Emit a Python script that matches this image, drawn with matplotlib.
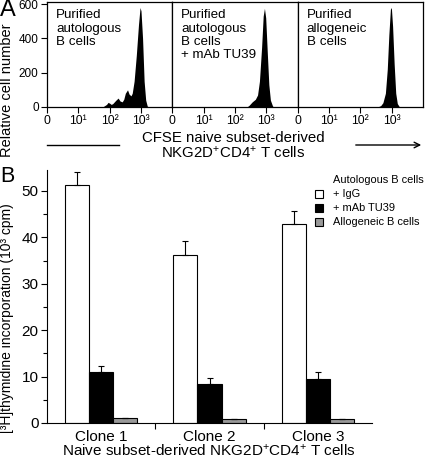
import matplotlib
matplotlib.use("Agg")
import matplotlib.pyplot as plt
import numpy as np
from matplotlib.ticker import LogLocator, NullFormatter
from matplotlib.patches import Rectangle, FancyArrowPatch
from matplotlib.lines import Line2D

plt.rcParams['font.family'] = ['Liberation Sans', 'DejaVu Sans']
plt.rcParams['mathtext.fontset'] = 'custom'
plt.rcParams['mathtext.rm'] = 'Liberation Sans'
plt.rcParams['mathtext.it'] = 'Liberation Sans:italic'

# panel A: CFSE histograms (log10 intensity, relative cell number)
hist_titles = ["Purified\nautologous\nB cells",
               "Purified\nautologous\nB cells\n+ mAb TU39",
               "Purified\nallogeneic\nB cells"]
cfse_log_1 = [1.65, 1.8, 1.9, 1.95, 2.0, 2.05, 2.1, 2.2, 2.27, 2.33, 2.4, 2.45, 2.5,
              2.57, 2.62, 2.68, 2.72, 2.78, 2.85, 2.92, 2.97, 3.0, 3.05, 3.1, 3.15, 3.2, 3.25]
counts_1 = [0, 3, 15, 27, 22, 15, 20, 40, 52, 35, 30, 45, 80,
            100, 75, 65, 80, 150, 300, 480, 580, 560, 400, 150, 40, 5, 0]
cfse_log_2 = [2.38, 2.45, 2.55, 2.65, 2.72, 2.78, 2.85, 2.9, 2.94, 2.98, 3.03, 3.08, 3.13, 3.2, 3.25]
counts_2 = [0, 10, 30, 45, 70, 150, 350, 530, 575, 520, 320, 130, 40, 5, 0]
cfse_log_3 = [2.55, 2.65, 2.72, 2.8, 2.86, 2.91, 2.96, 2.99, 3.03, 3.08, 3.13, 3.18, 3.25]
counts_3 = [0, 8, 25, 80, 220, 420, 570, 580, 470, 250, 80, 20, 0]

# panel B: proliferation
clones = ["Clone 1", "Clone 2", "Clone 3"]
igg = [51.3, 36.2, 42.8]
igg_err = [2.8, 3.1, 2.8]
tu39 = [11.0, 8.4, 9.4]
tu39_err = [1.3, 1.2, 1.6]
allo = [1.1, 0.85, 0.85]
allo_err = [0.0, 0.0, 0.0]
legend_labels = ["+ IgG", "+ mAb TU39", "Allogeneic B cells"]
bar_colors = ["white", "black", "#999999"]

W, H = 425, 458
def fx(p): return p / W
def fy(p): return 1 - p / H

fig = plt.figure(figsize=(W / 100, H / 100), dpi=100)

# ---- panel A
left, right, top, bot = 47, 423, 2, 107
pw = (right - left) / 3
hists = [(cfse_log_1, counts_1), (cfse_log_2, counts_2), (cfse_log_3, counts_3)]
for i, (lg, ct) in enumerate(hists):
    ax = fig.add_axes([fx(left + i * pw), fy(bot), pw / W, (bot - top) / H])
    ax.set_xscale('log')
    ax.fill_between(10 ** np.array(lg), ct, color='black', lw=0)
    ax.set_xlim(1, 1e4)
    ax.set_ylim(0, 612)
    ax.set_xticks([1, 10, 100, 1000])
    ax.set_xticklabels(['0', '10¹', '10²', '10³'])
    ax.xaxis.set_minor_locator(LogLocator(base=10, subs=range(2, 10)))
    ax.xaxis.set_minor_formatter(NullFormatter())
    ax.tick_params(axis='x', which='major', length=4, width=0.8, labelsize=8.8, pad=2)
    ax.tick_params(axis='x', which='minor', length=2, width=0.6)
    if i == 0:
        ax.set_yticks([0, 200, 400, 600])
        ax.tick_params(axis='y', length=4, width=0.8, labelsize=8.5, pad=2)
    else:
        ax.set_yticks([])
    for s in ax.spines.values():
        s.set_linewidth(0.9)
    fig.text(fx(56 + i * pw), fy(9.5), hist_titles[i], ha='left', va='top',
             fontsize=9.6, linespacing=1.12)

fig.text(fx(233), fy(138), "CFSE naive subset-derived", ha='center', va='center', fontsize=10.8)
fig.text(fx(233), fy(153), "NKG2D$^{+}$CD4$^{+}$ T cells", ha='center', va='center', fontsize=10.8)
fig.add_artist(Line2D([fx(47), fx(119)], [fy(145), fy(145)], color='black', lw=1))
fig.add_artist(FancyArrowPatch((fx(353), fy(145)), (fx(424), fy(145)),
                               transform=fig.transFigure, arrowstyle='->',
                               mutation_scale=10, lw=1, color='black'))
fig.text(fx(7), fy(90), "Relative cell number", rotation=90, ha='center', va='center', fontsize=10.5)
fig.text(fx(0), fy(-1.5), "A", ha='left', va='top', fontsize=17)

# ---- panel B
axb = fig.add_axes([fx(47), fy(423), (372 - 47) / W, (423 - 170) / H])
x = np.arange(len(clones))
w = 0.222
for off, vals, errs, c in [(-w, igg, igg_err, bar_colors[0]),
                           (0, tu39, tu39_err, bar_colors[1]),
                           (w, allo, allo_err, bar_colors[2])]:
    axb.bar(x + off, vals, w, color=c, edgecolor='black', lw=0.8,
            yerr=[np.zeros(len(errs)), errs], capsize=2.5,
            error_kw=dict(lw=0.8, capthick=0.8, ecolor='black'))
axb.set_xlim(-0.5, 2.5)
axb.set_ylim(0, 54.5)
axb.spines['top'].set_visible(False)
axb.spines['right'].set_visible(False)
axb.set_xticks(x)
axb.set_xticklabels(clones)
axb.set_xticks([0.5, 1.5], minor=True)
axb.tick_params(axis='x', which='major', length=0, labelsize=11, pad=5)
axb.tick_params(axis='x', which='minor', length=4, width=0.8)
axb.set_yticks([0, 10, 20, 30, 40, 50])
axb.set_yticks([5, 15, 25, 35, 45], minor=True)
axb.tick_params(axis='y', which='major', length=4, width=0.8, labelsize=11, pad=2)
axb.tick_params(axis='y', which='minor', length=3, width=0.8)

fig.text(fx(209), fy(455.5), "Naive subset-derived NKG2D$^{+}$CD4$^{+}$ T cells",
         ha='center', va='baseline', fontsize=11)
fig.text(fx(7), fy(318), "[³H]thymidine incorporation (10³ cpm)", rotation=90,
         ha='center', va='center', fontsize=10)
fig.text(fx(0), fy(166), "B", ha='left', va='top', fontsize=15.5)

# legend
fig.text(fx(333), fy(180), "Autologous B cells", ha='left', va='center', fontsize=7.9)
for yc, lab, c in zip([194, 207.7, 221.7], legend_labels, bar_colors):
    fig.add_artist(Rectangle((fx(315), fy(yc + 4)), 8 / W, 8 / H, transform=fig.transFigure,
                             facecolor=c, edgecolor='black', lw=0.8))
    fig.text(fx(333), fy(yc), lab, ha='left', va='center', fontsize=7.9)

fig.savefig("out.png", dpi=100)
